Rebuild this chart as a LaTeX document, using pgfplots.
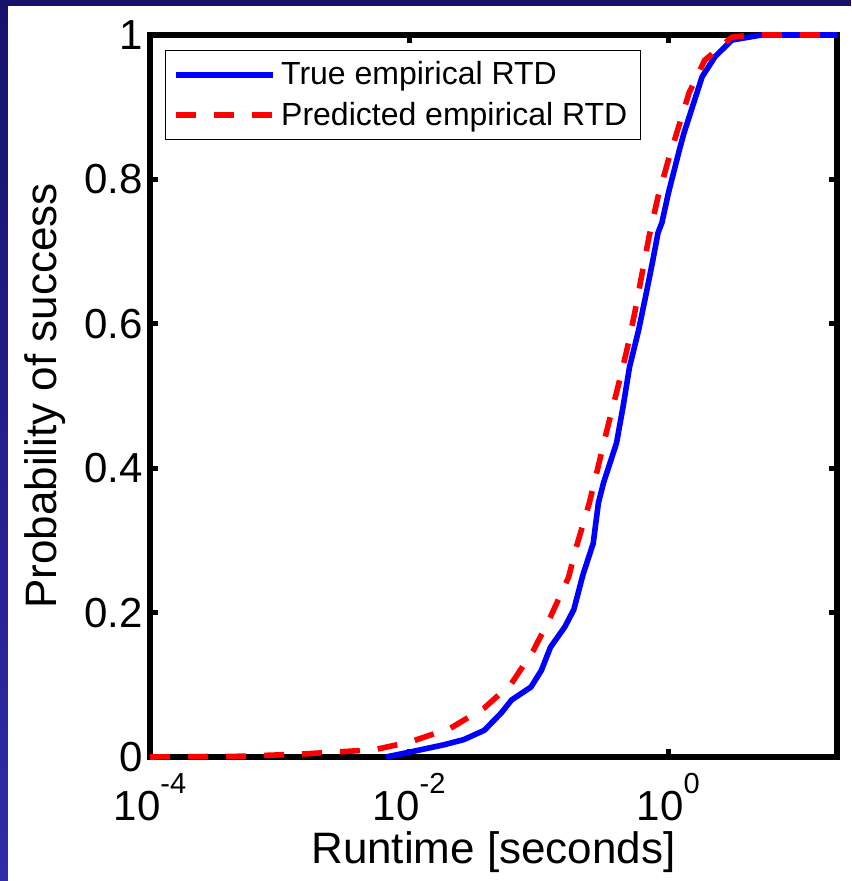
\documentclass[border=0pt]{standalone}
\usepackage{pgfplots}
\pgfplotsset{compat=1.18}
\usepackage{fontspec}
\setmainfont{Liberation Sans}
\definecolor{navy}{RGB}{22,18,108}
\definecolor{leftblue}{RGB}{48,44,170}
\definecolor{mblue}{RGB}{0,0,255}
\definecolor{mred}{RGB}{255,0,0}
\newcommand{\sep}[1]{10\raisebox{14pt}{\fontsize{14.5}{15}\selectfont #1}}
\begin{document}
\begin{tikzpicture}
\fill[navy] (0,0) rectangle (425.5pt,440.5pt);
\shade[top color=navy, bottom color=leftblue] (0,0) rectangle (4pt,440.5pt);
\fill[white] (4pt,0) rectangle (425.5pt,437.5pt);
\begin{axis}[
  xmode=log,
  scale only axis,
  width=343.5pt, height=361pt,
  at={(75pt,62pt)}, anchor=south west,
  xmin=1e-4, xmax=20, ymin=0, ymax=1,
  clip=false,
  xtick={1e-4,1e-2,1},
  xticklabels={\sep{-4},\sep{-2},\sep{0}},
  xticklabel style={anchor=base, yshift=-32pt},
  ytick={0,0.2,0.4,0.6,0.8,1},
  yticklabels={0,0.2,0.4,0.6,0.8,1},
  xminorticks=false, yminorticks=false,
  tick align=inside,
  major tick length=4pt,
  every tick/.style={black, line width=2.6pt},
  axis line style={line width=3.3pt, line join=miter},
  tick label style={font=\fontsize{21}{25}\selectfont},
  label style={font=\fontsize{22}{26}\selectfont},
  xlabel={Runtime [seconds]},
  ylabel={Probability of success},
  xlabel style={at={(axis description cs:0.5,0)}, anchor=base, yshift=-53pt},
  ylabel style={at={(axis description cs:-0.153,0.5)}, anchor=center},
  legend style={at={(axis description cs:0.0218,0.979)}, anchor=north west,
    draw=black, line width=0.6pt, fill=white,
    font=\fontsize{16}{18.5}\selectfont,
    inner xsep=4pt, inner ysep=3pt, row sep=2pt,
    nodes={inner sep=2.5pt}},
  legend cell align=left,
  legend image code/.code={\draw[#1] (0pt,0pt) -- (48.5pt,0pt);},
]
\addplot[mblue, line width=2.8pt, line join=round] table {
x y
0.00661 0
0.01023 0.007
0.01862 0.017
0.02630 0.024
0.03802 0.037
0.05129 0.061
0.06166 0.079
0.08710 0.097
0.1047 0.120
0.1230 0.152
0.1585 0.180
0.1862 0.204
0.2188 0.252
0.2630 0.296
0.2884 0.352
0.3162 0.380
0.3981 0.435
0.4467 0.485
0.5012 0.540
0.5888 0.591
0.6761 0.643
0.7586 0.688
0.8318 0.726
0.8913 0.740
1.0 0.781
1.216 0.841
1.318 0.864
1.820 0.942
2.291 0.970
3.090 0.993
5.248 1.0
20 1.0
};
\addlegendentry{True empirical RTD}
\addplot[mred, line width=2.8pt, dash pattern=on 10pt off 9pt] table {
x y
0.0001 0
0.0005 0.001
0.001445 0.004
0.005370 0.010
0.01023 0.021
0.02089 0.040
0.03802 0.068
0.06166 0.102
0.09120 0.148
0.1230 0.194
0.1698 0.249
0.1950 0.291
0.2455 0.352
0.2951 0.411
0.3467 0.463
0.4074 0.512
0.4786 0.564
0.5495 0.615
0.6166 0.663
0.7079 0.720
0.8318 0.776
1.0 0.827
1.445 0.920
1.905 0.965
3.090 0.997
4.365 1.0
20 1.0
};
\addlegendentry{Predicted empirical RTD}
\end{axis}
\pgfresetboundingbox
\useasboundingbox (0,0) rectangle (425.5pt,440.5pt);
\end{tikzpicture}
\end{document}
